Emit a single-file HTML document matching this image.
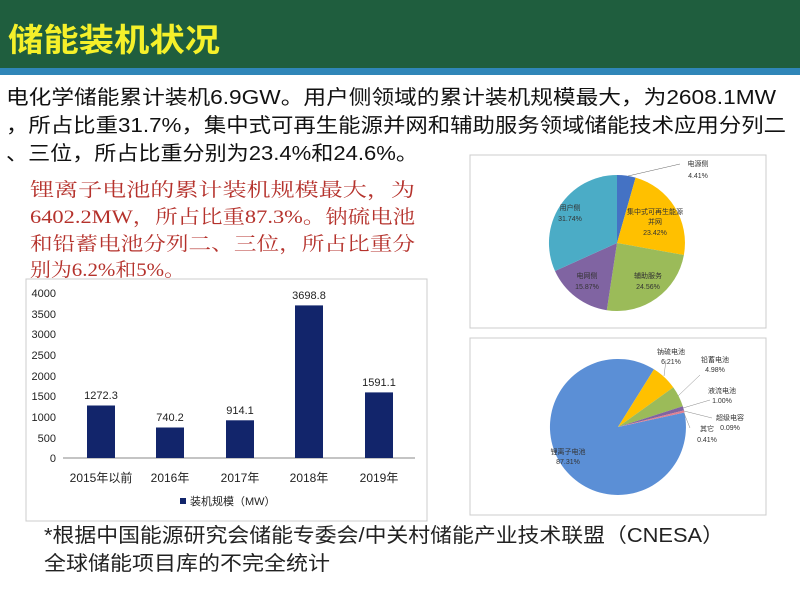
<!DOCTYPE html>
<html><head><meta charset="utf-8"><style>
body{margin:0;width:800px;height:600px;overflow:hidden;background:#fff;font-family:"Liberation Sans","Noto Sans CJK SC",sans-serif}
</style></head><body>
<svg width="800" height="600" xmlns="http://www.w3.org/2000/svg" font-family="Liberation Sans, Noto Sans CJK SC, sans-serif">
<rect x="0" y="0" width="800" height="68" fill="#1f5e3e"/>
<rect x="0" y="68" width="800" height="7" fill="#2f86b8"/>
<text x="8" y="51" font-size="32" font-weight="bold" fill="#f5f02a" textLength="212" lengthAdjust="spacingAndGlyphs">储能装机状况</text>
<g font-size="20" fill="#111">
<text x="6" y="104" textLength="770" lengthAdjust="spacingAndGlyphs">电化学储能累计装机6.9GW。用户侧领域的累计装机规模最大，为2608.1MW</text>
<text x="6" y="132" textLength="780" lengthAdjust="spacingAndGlyphs">，所占比重31.7%，集中式可再生能源并网和辅助服务领域储能技术应用分列二</text>
<text x="6" y="160" textLength="412" lengthAdjust="spacingAndGlyphs">、三位，所占比重分别为23.4%和24.6%。</text>
</g>
<g font-size="19" fill="#b5322c" font-family="Liberation Serif, Noto Serif CJK SC, serif">
<text x="30" y="196" textLength="385" lengthAdjust="spacingAndGlyphs">锂离子电池的累计装机规模最大，为</text>
<text x="30" y="223" textLength="385" lengthAdjust="spacingAndGlyphs">6402.2MW，所占比重87.3%。钠硫电池</text>
<text x="30" y="250" textLength="385" lengthAdjust="spacingAndGlyphs">和铅蓄电池分列二、三位，所占比重分</text>
<text x="30" y="276" textLength="155" lengthAdjust="spacingAndGlyphs">别为6.2%和5%。</text>
</g>
<!-- bar chart -->
<rect x="26" y="279" width="401" height="242" fill="#fff" stroke="#ccc"/>
<g font-size="11" fill="#222" text-anchor="end">
<text x="56" y="297">4000</text><text x="56" y="318">3500</text><text x="56" y="338">3000</text>
<text x="56" y="359">2500</text><text x="56" y="380">2000</text><text x="56" y="400">1500</text>
<text x="56" y="421">1000</text><text x="56" y="442">500</text><text x="56" y="462">0</text>
</g>
<line x1="63" y1="458" x2="415" y2="458" stroke="#888"/>
<g fill="#12256b">
<rect x="87" y="405.5" width="28" height="52.5"/>
<rect x="156" y="427.5" width="28" height="30.5"/>
<rect x="226" y="420.3" width="28" height="37.7"/>
<rect x="295" y="305.4" width="28" height="152.6"/>
<rect x="365" y="392.4" width="28" height="65.6"/>
</g>
<g font-size="11" fill="#222" text-anchor="middle">
<text x="101" y="399">1272.3</text><text x="170" y="421">740.2</text><text x="240" y="414">914.1</text>
<text x="309" y="299">3698.8</text><text x="379" y="386">1591.1</text>
</g>
<g font-size="12" fill="#222" text-anchor="middle">
<text x="101" y="482">2015年以前</text><text x="170" y="482">2016年</text><text x="240" y="482">2017年</text>
<text x="309" y="482">2018年</text><text x="379" y="482">2019年</text>
</g>
<rect x="180" y="498" width="6" height="6" fill="#12256b"/>
<text x="190" y="505" font-size="11" fill="#222">装机规模（MW）</text>
<!-- pie 1 -->
<rect x="470" y="155" width="296" height="173" fill="#fff" stroke="#ccc"/>
<path d="M617,243 L617,175 A68,68 0 0 1 635.6,177.6 Z" fill="#4472c4"/>
<path d="M617,243 L635.6,177.6 A68,68 0 0 1 683.9,255 Z" fill="#ffc000"/>
<path d="M617,243 L683.9,255 A68,68 0 0 1 606.8,310.2 Z" fill="#9bbb59"/>
<path d="M617,243 L606.8,310.2 A68,68 0 0 1 555,271 Z" fill="#8064a2"/>
<path d="M617,243 L555,271 A68,68 0 0 1 617,175 Z" fill="#4bacc6"/>
<line x1="628" y1="176" x2="680" y2="164" stroke="#666" stroke-width="0.5"/>
<g font-size="7" fill="#333" text-anchor="middle">
<text x="698" y="166">电源侧</text><text x="698" y="178">4.41%</text>
<text x="570" y="210">用户侧</text><text x="570" y="221">31.74%</text>
<text x="655" y="214">集中式可再生能源</text><text x="655" y="224">并网</text><text x="655" y="235">23.42%</text>
<text x="587" y="278">电网侧</text><text x="587" y="289">15.87%</text>
<text x="648" y="278">辅助服务</text><text x="648" y="289">24.56%</text>
</g>
<!-- pie 2 -->
<rect x="470" y="338" width="296" height="177" fill="#fff" stroke="#ccc"/>
<path d="M618,427 L684.4,412.5 A68,68 0 1 1 654,369.3 Z" fill="#5b8fd6"/>
<path d="M618,427 L654,369.3 A68,68 0 0 1 673.3,387.4 Z" fill="#ffc000"/>
<path d="M618,427 L673.3,387.4 A68,68 0 0 1 682.8,406.3 Z" fill="#9bbb59"/>
<path d="M618,427 L682.8,406.3 A68,68 0 0 1 684,410.4 Z" fill="#8064a2"/>
<path d="M618,427 L684,410.4 A68,68 0 0 1 684.4,412.5 Z" fill="#e08090"/>
<g stroke="#888" stroke-width="0.5" fill="none">
<line x1="664" y1="376" x2="666" y2="360"/>
<line x1="678" y1="396" x2="700" y2="375"/>
<line x1="683" y1="408" x2="710" y2="400"/>
<line x1="684" y1="411" x2="712" y2="418"/>
<line x1="684" y1="413" x2="690" y2="428"/>
</g>
<g font-size="7" fill="#333" text-anchor="middle">
<text x="671" y="354">钠硫电池</text><text x="671" y="364">6.21%</text>
<text x="715" y="362">铅蓄电池</text><text x="715" y="372">4.98%</text>
<text x="722" y="393">液流电池</text><text x="722" y="403">1.00%</text>
<text x="730" y="420">超级电容</text><text x="730" y="430">0.09%</text>
<text x="707" y="431">其它</text><text x="707" y="442">0.41%</text>
<text x="568" y="454">锂离子电池</text><text x="568" y="464">87.31%</text>
</g>
<g font-size="20" fill="#222">
<text x="44" y="542" textLength="680" lengthAdjust="spacingAndGlyphs">*根据中国能源研究会储能专委会/中关村储能产业技术联盟（CNESA）</text>
<text x="44" y="570" textLength="286" lengthAdjust="spacingAndGlyphs">全球储能项目库的不完全统计</text>
</g>
</svg>
</body></html>
